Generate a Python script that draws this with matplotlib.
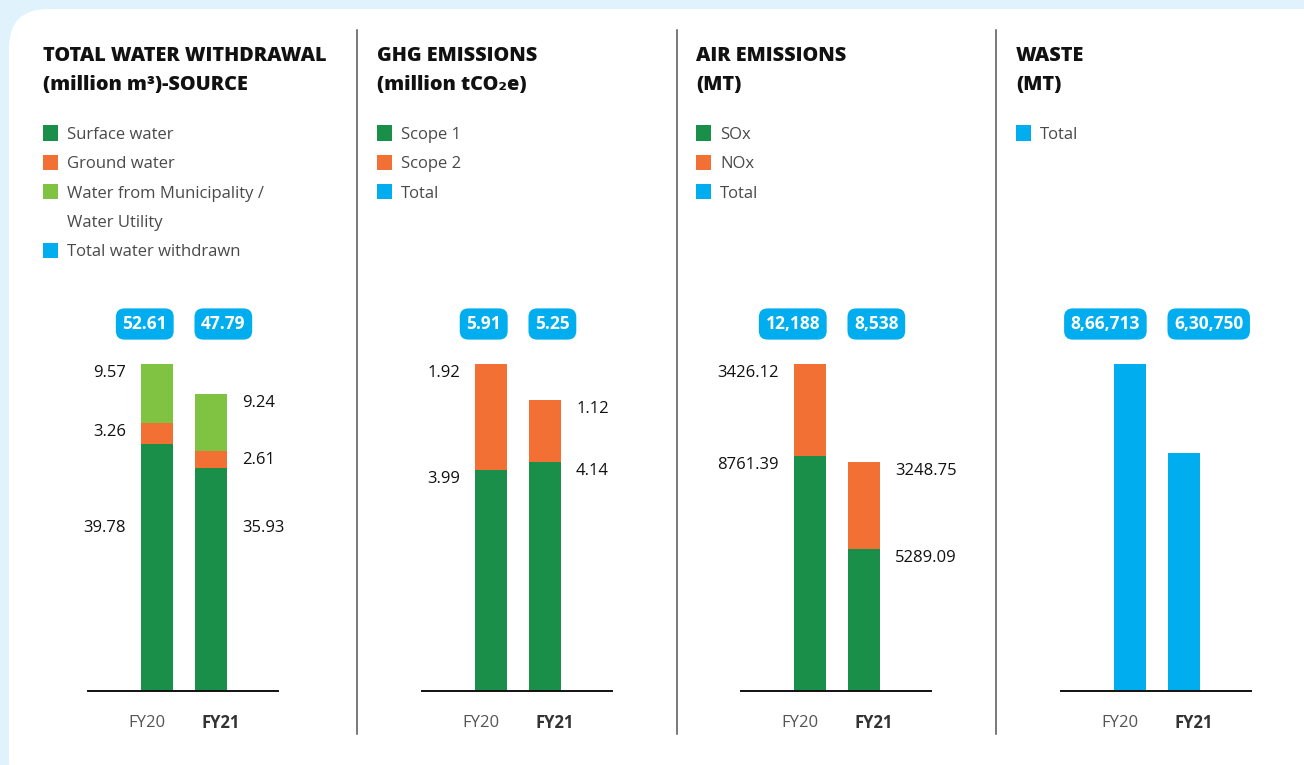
import matplotlib.pyplot as plt
from matplotlib.patches import FancyBboxPatch, Rectangle
from matplotlib.lines import Line2D

plt.rcParams['font.family'] = ['Open Sans', 'DejaVu Sans']

W, H = 1304, 765

years = ['FY20', 'FY21']

water_surface = [39.78, 35.93]
water_ground = [3.26, 2.61]
water_muni = [9.57, 9.24]
water_total = [52.61, 47.79]

ghg_scope1 = [3.99, 4.14]
ghg_scope2 = [1.92, 1.12]
ghg_total = [5.91, 5.25]

air_sox = [8761.39, 5289.09]
air_nox = [3426.12, 3248.75]
air_total = [12188, 8538]

waste_total = [866713, 630750]

GREEN = '#1a8f4a'
ORANGE = '#f37034'
LIME = '#80c241'
BLUE = '#00aeef'
TXT = '#4a4a4a'


def fx(x):
    return x / W


def fy(y):
    return 1 - y / H


def two_dp(v):
    return f'{v:.2f}'


def indian(v):
    s = str(int(round(v)))
    if len(s) <= 3:
        return s
    head, tail = s[:-3], s[-3:]
    parts = []
    while len(head) > 2:
        parts.insert(0, head[-2:])
        head = head[:-2]
    if head:
        parts.insert(0, head)
    return ','.join(parts + [tail])


panels = [
    dict(title=['TOTAL WATER WITHDRAWAL', '(million m³)-SOURCE'],
         legend=[(GREEN, 'Surface water'), (ORANGE, 'Ground water'),
                 (LIME, 'Water from Municipality /\nWater Utility'),
                 (BLUE, 'Total water withdrawn')],
         stacks=[(water_surface, GREEN), (water_ground, ORANGE), (water_muni, LIME)],
         total=water_total, tot_fmt=two_dp, low_mid=True),
    dict(title=['GHG EMISSIONS', '(million tCO₂e)'],
         legend=[(GREEN, 'Scope 1'), (ORANGE, 'Scope 2'), (BLUE, 'Total')],
         stacks=[(ghg_scope1, GREEN), (ghg_scope2, ORANGE)],
         total=ghg_total, tot_fmt=two_dp, low_mid=False),
    dict(title=['AIR EMISSIONS', '(MT)'],
         legend=[(GREEN, 'SOx'), (ORANGE, 'NOx'), (BLUE, 'Total')],
         stacks=[(air_sox, GREEN), (air_nox, ORANGE)],
         total=air_total, tot_fmt=indian, low_mid=False),
    dict(title=['WASTE', '(MT)'],
         legend=[(BLUE, 'Total')],
         stacks=[(waste_total, BLUE)],
         total=waste_total, tot_fmt=indian, low_mid=False, no_labels=True),
]

fig = plt.figure(figsize=(W / 100, H / 100), dpi=100)
fig.patch.set_facecolor('#e0f2fc')

# white card behind everything
card = FancyBboxPatch((fx(9), fy(800)), fx(1400), fy(9) - fy(800),
                      boxstyle='round,pad=0,rounding_size=0.03',
                      transform=fig.transFigure, facecolor='white',
                      edgecolor='none', mutation_aspect=W / H, zorder=-10)
fig.patches.append(card)

# separators
for sx in [357, 677, 996]:
    fig.add_artist(Line2D([fx(sx), fx(sx)], [fy(30), fy(734)],
                          transform=fig.transFigure, color='#555555', lw=1.1))

panel_x = [88, 422, 741, 1061]
row_y = [135, 164.3, 193.6, 222.9, 252.2]

for p, x0 in zip(panels, panel_x):
    tx = x0 - 45
    for j, line in enumerate(p['title']):
        fig.text(fx(tx), fy(56 + 29 * j), line, fontsize=14.3, fontweight='heavy',
                 color='#111111', va='center', ha='left')

    # legend
    row = 0
    for col, lab in p['legend']:
        fig.add_artist(Rectangle((fx(tx), fy(row_y[row] + 5.5)), 15 / W, 15 / H,
                                 transform=fig.transFigure, facecolor=col,
                                 edgecolor='none', zorder=5))
        for line in lab.split('\n'):
            fig.text(fx(tx + 24), fy(row_y[row]), line, fontsize=12, color=TXT,
                     va='center', ha='left')
            row += 1

    ax = fig.add_axes([fx(x0), fy(691), 190 / W, 327 / H])
    ax.set_xlim(-1.28, 2.24)
    ymax = max(p['total'])
    ax.set_ylim(0, ymax)
    ax.patch.set_alpha(0)
    for s in ['top', 'right', 'left']:
        ax.spines[s].set_visible(False)
    ax.spines['bottom'].set_linewidth(1.4)
    ax.spines['bottom'].set_color('#111111')
    ax.set_yticks([])
    ax.set_xticks([])

    # year labels, nudged outward from the bar centres
    for i, yr in enumerate(years):
        ax.annotate(yr, (i, 0), xytext=(-10 if i == 0 else 10, -32),
                    textcoords='offset pixels', ha='center', va='center',
                    fontsize=12, color='#555555' if i == 0 else '#333333',
                    fontweight='normal' if i == 0 else 'bold')

    bw = 0.593
    bottoms = [0, 0]
    for k, (vals, col) in enumerate(p['stacks']):
        ax.bar([0, 1], vals, bw, bottom=bottoms, color=col, clip_on=False)
        if not p.get('no_labels'):
            for i in range(2):
                top = bottoms[i] + vals[i]
                if k == 0 and p['low_mid']:
                    ly, dy = ymax / 2, 0
                else:
                    ly, dy = top, -9
                if i == 0:
                    ax.annotate(two_dp(vals[i]), (i - bw / 2, ly),
                                xytext=(-15, dy), textcoords='offset pixels',
                                ha='right', va='center', fontsize=12,
                                color='#111111')
                else:
                    ax.annotate(two_dp(vals[i]), (i + bw / 2, ly),
                                xytext=(15, dy), textcoords='offset pixels',
                                ha='left', va='center', fontsize=12,
                                color='#111111')
        bottoms = [bottoms[i] + vals[i] for i in range(2)]

    # total badges
    for i in range(2):
        ax.annotate(p['tot_fmt'](p['total'][i]), (0.5, ymax),
                    xytext=(-17 if i == 0 else 17, 40),
                    textcoords='offset pixels',
                    ha='right' if i == 0 else 'left', va='center',
                    fontsize=12.5, fontweight='bold', color='white',
                    bbox=dict(boxstyle='round,pad=0.38,rounding_size=0.5',
                              facecolor=BLUE, edgecolor='none'))

fig.savefig('out.png', dpi=100, facecolor=fig.get_facecolor())
